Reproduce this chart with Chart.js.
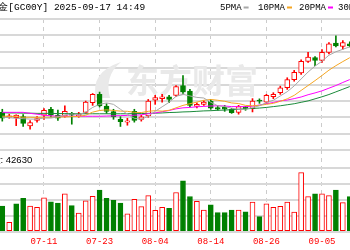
<!DOCTYPE html>
<html>
<head>
<meta charset="utf-8">
<script src="https://cdn.jsdelivr.net/npm/chart.js@4/dist/chart.umd.min.js"></script>
<style>
html, body { margin: 0; padding: 0; background: #fff; }
#wrap { position: relative; width: 350px; height: 250px; overflow: hidden; }
#price { position: absolute; left: 0; top: 0; }
#vol { position: absolute; left: 0; top: 150px; }
</style>
</head>
<body>
<div id="wrap">
  <canvas id="price" width="350" height="152"></canvas>
  <canvas id="vol" width="350" height="100"></canvas>
</div>
<script>
// daily K-line of COMEX gold, cropped view

const dates = ['07-03','07-04','07-07','07-08','07-09','07-10','07-11','07-14','07-15','07-16',
  '07-17','07-18','07-21','07-22','07-23','07-24','07-25','07-28','07-29','07-30',
  '07-31','08-01','08-04','08-05','08-06','08-07','08-08','08-11','08-12','08-13',
  '08-14','08-15','08-18','08-19','08-20','08-21','08-22','08-25','08-26','08-27',
  '08-28','08-29','09-01','09-02','09-03','09-04','09-05','09-08','09-09','09-10',
  '09-11'];
const tickDates = ['07-11','07-23','08-04','08-14','08-26','09-05'];

const opens = [3344,3320,3318,3323,3278,3304,3330,3359,3330,3325,
  3339,3325,3343,3391,3432,3375,3348,3310,3296,3349,
  3310,3326,3404,3411,3420,3427,3475,3448,3373,3383,
  3398,3367,3369,3359,3343,3369,3362,3404,3394,3420,
  3440,3464,3504,3537,3593,3612,3598,3637,3682,3666,
  3679];
const highs = [3359,3335,3332,3333,3304,3323,3362,3369,3355,3376,
  3344,3344,3399,3436,3443,3386,3359,3323,3315,3359,
  3330,3407,3427,3432,3427,3475,3524,3456,3390,3402,
  3407,3376,3378,3364,3378,3373,3411,3410,3432,3440,
  3472,3513,3549,3601,3637,3617,3650,3685,3718,3695,
  3689];
const lows = [3301,3315,3279,3275,3262,3296,3310,3320,3305,3320,
  3286,3320,3339,3378,3370,3339,3310,3275,3281,3296,
  3301,3320,3383,3394,3391,3422,3436,3371,3366,3378,
  3359,3354,3349,3339,3335,3354,3346,3388,3388,3411,
  3432,3456,3496,3529,3588,3572,3588,3630,3663,3653,
  3664];
const closes = [3315,3327,3330,3290,3294,3314,3354,3330,3315,3349,
  3330,3335,3394,3432,3375,3348,3322,3298,3303,3304,
  3322,3399,3416,3420,3407,3470,3444,3378,3383,3394,
  3364,3359,3359,3342,3372,3361,3399,3398,3427,3432,
  3464,3504,3540,3593,3614,3598,3637,3679,3669,3685,
  3669];

const ma5 = [3320,3318,3315,3313,3311,3311,3316,3316,3322,3332,
  3336,3332,3345,3368,3383,3390,3383,3359,3335,3315,
  3310,3325,3349,3371,3393,3422,3432,3424,3417,3414,
  3393,3376,3372,3364,3359,3359,3367,3376,3391,3403,
  3424,3445,3473,3507,3541,3570,3594,3623,3640,3652,
  3664];
const ma10 = [3325,3325,3323,3320,3320,3319,3320,3320,3321,3322,
  3323,3324,3330,3345,3353,3356,3353,3350,3349,3344,
  3343,3349,3352,3350,3354,3366,3378,3386,3394,3403,
  3407,3403,3398,3390,3387,3378,3376,3378,3383,3388,
  3398,3410,3427,3451,3475,3499,3524,3550,3572,3592,
  3611];
const ma20 = [3344,3344,3344,3344,3339,3335,3330,3327,3325,3325,
  3325,3325,3325,3325,3325,3326,3327,3328,3329,3330,
  3332,3337,3341,3347,3353,3361,3366,3368,3371,3373,
  3375,3376,3375,3372,3372,3372,3374,3380,3386,3392,
  3400,3404,3411,3419,3430,3439,3449,3462,3475,3490,
  3504];
const ma30 = [3342,3341,3341,3340,3340,3339,3339,3339,3338,3338,
  3337,3337,3337,3337,3337,3337,3337,3337,3337,3338,
  3338,3339,3340,3341,3343,3344,3346,3347,3349,3351,
  3352,3354,3355,3357,3359,3361,3363,3365,3368,3372,
  3376,3381,3386,3393,3400,3410,3420,3431,3444,3457,
  3470];

const volumes = [162000,59000,175000,211000,162000,154000,213000,189000,181000,238000,
  164000,118000,194000,223000,263000,211000,198000,181000,112000,204000,
  158000,227000,135000,154000,148000,247000,320000,222000,192000,136000,
  170000,120000,120000,136000,136000,126000,187000,95000,175000,154000,
  160000,187000,124000,372000,221000,238000,238000,227000,263000,183000,
  221000];
const volUp = [0,1,0,0,1,1,1,0,0,1, 0,1,1,1,0,0,0,0,1,1,
  1,1,1,1,0,1,0,0,1,1, 0,0,0,0,1,0,1,0,1,1,
  1,1,1,1,1,0,1,1,0,1, 0];

const priceTicks = [3160,3240,3320,3400,3480,3560,3640,3720,3800];
const volTicks = [0,100000,200000,300000,400000];

const titleText = '黄金[GC00Y] 2025-09-17 14:49';
const volText = '成交量: 42630';
const watermark = '东方财富';
const maNames = ['5PMA','10PMA','20PMA','30PMA'];
const maColors = ['#a8a8a8','#f5a623','#ff00ff','#1a8a3a'];
const legendX = [220, 258, 299, 338];

const RED = '#ff0000';
const GREEN = '#008000';

const idx = dates.map((d, i) => i);
const tickIdx = tickDates.map(d => dates.indexOf(d));
const isUp = idx.map(i => closes[i] >= opens[i]);

function xAxis(showLabels) {
  return {
    type: 'linear',
    min: -0.33,
    max: 50.03,
    offset: false,
    afterBuildTicks: s => { s.ticks = tickIdx.map(v => ({ value: v })); },
    ticks: {
      display: showLabels,
      color: RED,
      font: { family: 'Liberation Mono', size: 9 },
      padding: 5,
      maxRotation: 0,
      autoSkip: false,
      callback: v => dates[v]
    },
    grid: { color: '#cccccc', lineWidth: 1, drawTicks: false, offset: false },
    border: { display: false, dash: [4, 4] }
  };
}

const pricePlugin = {
  id: 'priceDecor',
  beforeDatasetsDraw(chart) {
    const ctx = chart.ctx;
    ctx.save();
    // faint logo + watermark
    ctx.fillStyle = '#e9e9e9';
    ctx.beginPath();
    ctx.moveTo(96, 98);
    ctx.quadraticCurveTo(90, 72, 121, 62);
    ctx.quadraticCurveTo(104, 76, 110, 98);
    ctx.closePath();
    ctx.fill();
    ctx.font = 'bold 33px "Noto Sans CJK SC"';
    ctx.textBaseline = 'middle';
    ctx.fillText(watermark, 126, 80);
    ctx.restore();
  },
  afterDraw(chart) {
    const ctx = chart.ctx;
    ctx.save();
    ctx.textBaseline = 'middle';
    ctx.fillStyle = '#000';
    ctx.font = '9.5px "Liberation Mono"';
    const pre = ctx.measureText('黄金').width;
    ctx.fillText(titleText, 8.3 - pre, 7.5);
    ctx.font = '9px "Liberation Mono"';
    maNames.forEach((n, k) => {
      ctx.fillStyle = '#000';
      ctx.fillText(n, legendX[k], 7.5);
      const w = ctx.measureText(n).width;
      ctx.fillStyle = maColors[k];
      ctx.fillRect(legendX[k] + w + 2, 6.5, 5, 2);
    });
    ctx.restore();
  }
};

const volPlugin = {
  id: 'volDecor',
  afterDraw(chart) {
    const ctx = chart.ctx;
    ctx.save();
    ctx.textBaseline = 'middle';
    ctx.fillStyle = '#000';
    ctx.font = '9.5px "Liberation Sans"';
    const pre = ctx.measureText('成交量').width;
    ctx.fillText(volText, 0.5 - pre, 10.5);
    ctx.restore();
  }
};

function maSet(values, k) {
  return {
    type: 'line',
    data: idx.map(i => ({ x: i, y: values[i] })),
    borderColor: maColors[k],
    borderWidth: 1,
    pointRadius: 0,
    fill: false,
    tension: 0,
    order: k
  };
}

new Chart(document.getElementById('price'), {
  type: 'bar',
  data: {
    datasets: [
      maSet(ma5, 0),
      maSet(ma10, 1),
      maSet(ma20, 2),
      maSet(ma30, 3),
      {
        data: idx.map(i => ({ x: i, y: [opens[i], closes[i]] })),
        backgroundColor: idx.map(i => isUp[i] ? '#ffffff' : GREEN),
        borderColor: idx.map(i => isUp[i] ? RED : GREEN),
        borderWidth: 1,
        borderSkipped: false,
        barThickness: 5,
        grouped: false,
        order: 4
      },
      {
        data: idx.map(i => ({ x: i, y: [lows[i], highs[i]] })),
        backgroundColor: idx.map(i => isUp[i] ? RED : GREEN),
        borderWidth: 0,
        barThickness: 1,
        grouped: false,
        order: 5
      }
    ]
  },
  options: {
    responsive: false,
    animation: false,
    devicePixelRatio: 1,
    events: [],
    layout: { autoPadding: false, padding: { top: 19, bottom: 2, left: 0, right: 0 } },
    plugins: { legend: { display: false }, tooltip: { enabled: false } },
    scales: {
      x: xAxis(false),
      y: {
        min: 3160,
        max: 3800,
        afterBuildTicks: s => { s.ticks = priceTicks.map(v => ({ value: v })); },
        ticks: { display: false },
        grid: { color: '#d8d8d8', lineWidth: 2, drawTicks: false },
        border: { display: false }
      }
    }
  },
  plugins: [pricePlugin]
});

new Chart(document.getElementById('vol'), {
  type: 'bar',
  data: {
    datasets: [{
      data: idx.map(i => ({ x: i, y: volumes[i] })),
      backgroundColor: idx.map(i => volUp[i] ? '#ffffff' : GREEN),
      borderColor: idx.map(i => volUp[i] ? RED : GREEN),
      borderWidth: 1,
      borderSkipped: false,
      barThickness: 5,
      grouped: false
    }]
  },
  options: {
    responsive: false,
    animation: false,
    devicePixelRatio: 1,
    events: [],
    layout: { autoPadding: false, padding: 0 },
    plugins: { legend: { display: false }, tooltip: { enabled: false } },
    scales: {
      x: Object.assign(xAxis(true), { afterFit: s => { s.height = 18.3; } }),
      y: {
        min: 0,
        max: 515000,
        afterBuildTicks: s => { s.ticks = volTicks.map(v => ({ value: v })); },
        ticks: { display: false },
        grid: { color: '#d8d8d8', lineWidth: 2, drawTicks: false },
        border: { display: false }
      }
    }
  },
  plugins: [volPlugin]
});
</script>
</body>
</html>
